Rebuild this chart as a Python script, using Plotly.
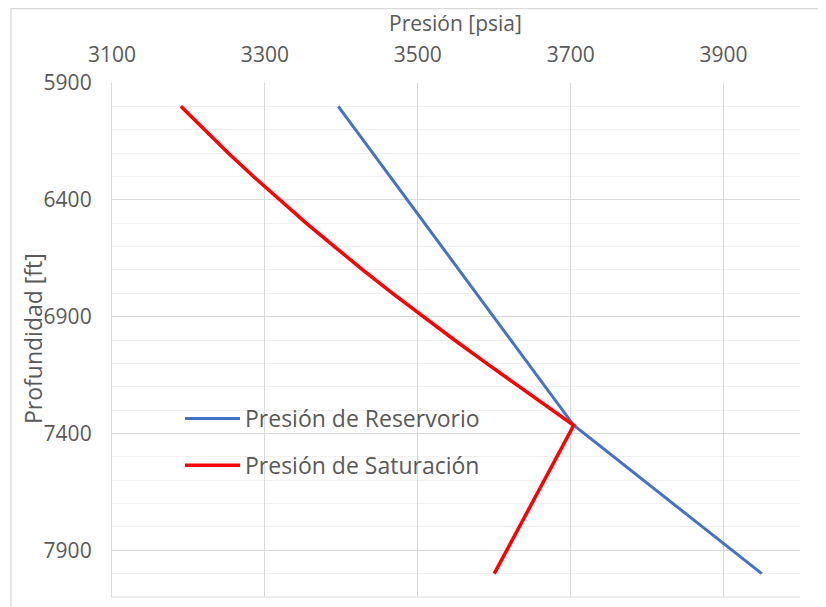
import plotly.graph_objects as go

# Data
res_pressure = [3396, 3704, 3950]
res_depth = [6000, 7365, 8000]

sat_pressure = [3190, 3221, 3252, 3285, 3319, 3354, 3391, 3428, 3467, 3507,
                3548, 3590, 3633, 3677, 3704, 3600]
sat_depth = [6000, 6100, 6200, 6300, 6400, 6500, 6600, 6700, 6800, 6900,
             7000, 7100, 7200, 7300, 7365, 8000]

x_title = "Presión [psia]"
y_title = "Profundidad [ft]"

FONT = "Open Sans"
TXT = "#595959"

fig = go.Figure()
fig.add_trace(go.Scatter(x=res_pressure, y=res_depth, mode="lines",
                         name="Presión de Reservorio", legendgroup="a",
                         line=dict(color="#4472C4", width=3)))
fig.add_trace(go.Scatter(x=sat_pressure, y=sat_depth, mode="lines",
                         name="Presión de Saturación", legendgroup="b",
                         line=dict(color="#FF0000", width=3.5)))

OFF = 8  # page body margin
W, H = 818, 599
L, T = 112 - OFF, 83 - OFF
R = W - (800 - OFF)
B = H - (597 - OFF)
pw, ph = W - L - R, H - T - B

def fx(ax):
    return (ax - OFF - L) / pw

def fy(ay):
    return (H - B - (ay - OFF)) / ph

fig.update_layout(
    width=W, height=H,
    margin=dict(l=L, r=R, t=T, b=B, autoexpand=False),
    paper_bgcolor="white", plot_bgcolor="white",
    font=dict(family=FONT, size=21, color=TXT),
    showlegend=True,
    legend=dict(x=fx(180), y=fy(397), xanchor="left", yanchor="top",
                bgcolor="rgba(0,0,0,0)", font=dict(size=23, color=TXT),
                tracegroupgap=14, itemwidth=55),
    xaxis=dict(side="top", range=[3100, 4000], tick0=3100, dtick=200,
               showgrid=True, gridcolor="#d9d9d9", gridwidth=1.3,
               zeroline=False, showline=False, ticks="",
               tickfont=dict(size=21, color=TXT),
               ticklabelstandoff=16, automargin=False),
    yaxis=dict(range=[8100, 5900], tick0=5900, dtick=500,
               showgrid=True, gridcolor="#d9d9d9", gridwidth=1.3,
               minor=dict(dtick=100, tick0=5900, showgrid=True,
                          gridcolor="#f0f0f0", gridwidth=1.3),
               zeroline=False, showline=True, linecolor="#d9d9d9",
               linewidth=1.3, mirror=False, ticks="",
               tickfont=dict(size=21, color=TXT),
               ticklabelstandoff=15, automargin=False),
    annotations=[
        dict(text=x_title, xref="paper", yref="paper", x=fx(455), y=fy(23),
             xanchor="center", yanchor="middle", showarrow=False,
             font=dict(size=21, color=TXT)),
        dict(text=y_title, xref="paper", yref="paper", x=fx(33), y=fy(339),
             xanchor="center", yanchor="middle", showarrow=False,
             textangle=-90, font=dict(size=23, color=TXT)),
    ],
)

# bottom light line
fig.add_shape(type="line", xref="paper", yref="paper", x0=0, x1=1, y0=0, y1=0,
              line=dict(color="#e6e6e6", width=1.3), layer="below")
# outer chart border
fig.add_shape(type="rect", xref="paper", yref="paper",
              x0=fx(11), x1=fx(840), y0=fy(620), y1=fy(8.7),
              line=dict(color="#d9d9d9", width=1.3), layer="below")

fig.write_html("out.html")
